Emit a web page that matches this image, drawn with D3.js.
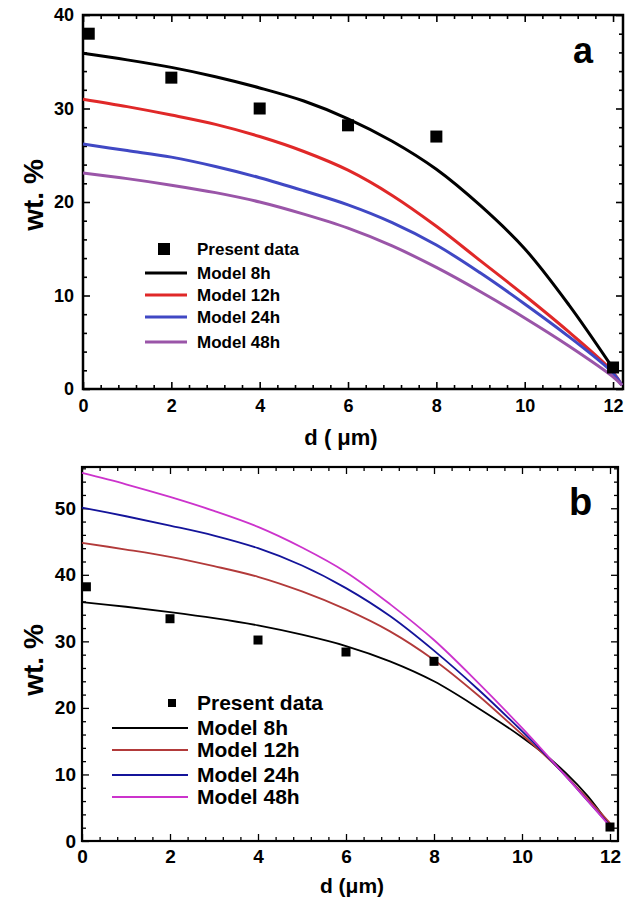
<!DOCTYPE html>
<html><head><meta charset="utf-8">
<script src="https://cdn.jsdelivr.net/npm/d3@7"></script>
<style>body{margin:0;background:#fff}svg{display:block}</style>
</head><body>
<svg id="c" width="635" height="903"></svg>
<script>
// ---------- DATA ----------
const seriesNames = ["Model 8h","Model 12h","Model 24h","Model 48h"];
// Panel a
const dataA_x = [0.13, 2, 4, 6, 8, 12];
const dataA_y = [38.0, 33.3, 30.0, 28.2, 27.0, 2.3];
const modelA_d = [0,1,2,3,4,5,6,7,8,9,10,11,12,12.2];
const modelA_8h  = [35.9,35.2,34.4,33.4,32.2,30.8,28.9,26.5,23.5,19.6,15.0,9.0,2.2];
const modelA_12h = [31.0,30.2,29.3,28.3,27.0,25.4,23.4,20.7,17.4,13.7,10.0,6.1,1.8,0.4];
const modelA_24h = [26.2,25.5,24.8,23.8,22.6,21.2,19.7,17.8,15.4,12.4,9.1,5.6,1.7,0.4];
const modelA_48h = [23.1,22.5,21.8,21.0,20.0,18.7,17.2,15.3,13.0,10.4,7.6,4.6,1.3,0.4];
// Panel b
const dataB_x = [0.1, 2, 4, 6, 8, 12];
const dataB_y = [38.2, 33.4, 30.2, 28.4, 27.0, 2.1];
const modelB_d = [0,1,2,3,4,5,6,7,8,9,10,10.5,11,11.5,12];
const modelB_8h  = [35.9,35.2,34.4,33.5,32.4,31.0,29.3,27.0,24.0,20.0,15.6,13.1,10.2,6.7,2.3];
const modelB_12h = [44.8,43.8,42.7,41.3,39.7,37.5,34.8,31.5,27.2,21.9,16.0,13.0,9.8,6.3,2.7];
const modelB_24h = [50.1,48.8,47.4,45.9,44.0,41.4,38.0,33.8,28.6,22.8,16.5,13.2,9.7,6.0,2.3];
const modelB_48h = [55.3,53.6,51.7,49.6,47.2,44.1,40.4,35.6,30.2,23.8,17.0,13.4,9.7,6.0,2.2];
const xTicks = [0,2,4,6,8,10,12];
const yTicksA = [0,10,20,30,40];
const yTicksB = [0,10,20,30,40,50];

// ---------- DRAW ----------
const svg = d3.select("#c");

function panel(o){
  const g = svg.append("g");
  const x = d3.scaleLinear().domain(o.xDomain).range([o.left,o.right]);
  const y = d3.scaleLinear().domain(o.yDomain).range([o.bottom,o.top]);
  const xMinor = d3.range(0, o.xDomain[1]+1e-9, 0.4).filter(v=>!xTicks.some(t=>Math.abs(t-v)<1e-6));
  const yMinor = d3.range(0, o.yDomain[1]+1e-9, 2).filter(v=>v%10!==0);
  const fontTick = `font-family:${o.tickFamily};font-weight:bold;font-size:${o.tickSize}px;fill:#000`;
  const styleAxis = sel => { sel.select(".domain").remove(); sel.selectAll("line").attr("stroke","#000").attr("stroke-width",o.frameW>2.3?1.6:1.3); };
  // bottom
  g.append("g").attr("transform",`translate(0,${o.bottom})`)
    .call(d3.axisBottom(x).tickValues(xTicks).tickSize(-7).tickPadding(o.xPad).tickFormat(d3.format("d")))
    .call(styleAxis).selectAll("text").attr("style",fontTick);
  g.append("g").attr("transform",`translate(0,${o.bottom})`)
    .call(d3.axisBottom(x).tickValues(xMinor).tickSize(-4).tickFormat(""))
    .call(styleAxis);
  // top
  g.append("g").attr("transform",`translate(0,${o.top})`)
    .call(d3.axisTop(x).tickValues(xTicks).tickSize(-7).tickFormat("")).call(styleAxis);
  g.append("g").attr("transform",`translate(0,${o.top})`)
    .call(d3.axisTop(x).tickValues(xMinor).tickSize(-4).tickFormat("")).call(styleAxis);
  // left
  g.append("g").attr("transform",`translate(${o.left},0)`)
    .call(d3.axisLeft(y).tickValues(o.yTicks).tickSize(-7).tickPadding(o.yPad).tickFormat(d3.format("d")))
    .call(styleAxis).selectAll("text").attr("style",fontTick);
  g.append("g").attr("transform",`translate(${o.left},0)`)
    .call(d3.axisLeft(y).tickValues(yMinor).tickSize(-4).tickFormat("")).call(styleAxis);
  // right
  g.append("g").attr("transform",`translate(${o.right},0)`)
    .call(d3.axisRight(y).tickValues(o.yTicks).tickSize(-7).tickFormat("")).call(styleAxis);
  g.append("g").attr("transform",`translate(${o.right},0)`)
    .call(d3.axisRight(y).tickValues(yMinor).tickSize(-4).tickFormat("")).call(styleAxis);
  // frame
  g.append("rect").attr("x",o.left).attr("y",o.top).attr("width",o.right-o.left).attr("height",o.bottom-o.top)
    .attr("fill","none").attr("stroke","#000").attr("stroke-width",o.frameW);

  // model lines
  const line = d3.line().x(d=>x(d[0])).y(d=>y(d[1])).curve(d3.curveCatmullRom.alpha(0.5));
  o.models.forEach((m,i)=>{
    const pts = m.map((v,j)=>[o.modelD[j],v]);
    g.append("path").attr("d",line(pts)).attr("fill","none")
      .attr("stroke",o.colors[i]).attr("stroke-width",o.lineW).attr("stroke-linejoin","round");
  });
  // data squares
  g.selectAll(null).data(o.dataX.map((v,i)=>[v,o.dataY[i]])).enter().append("rect")
    .attr("x",d=>x(d[0])-o.sq/2).attr("y",d=>y(d[1])-o.sq/2)
    .attr("width",o.sq).attr("height",o.sq).attr("fill","#000");

  // panel letter
  g.append("text").attr("x",o.letterX).attr("y",o.letterY).text(o.letter)
    .attr("style",`font-family:Liberation Sans,Arial,sans-serif;font-weight:bold;font-size:${o.letterSize}px`);
  // axis titles
  g.append("text").attr("transform",`translate(${o.yTitleX},${o.yTitleY}) rotate(-90)`)
    .attr("text-anchor","middle").text("wt. %")
    .attr("style",`font-family:Liberation Sans,Arial,sans-serif;font-weight:bold;font-size:${o.titleSize}px`);
  g.append("text").attr("x",o.xTitleX).attr("y",o.xTitleY).attr("text-anchor","middle").text(o.xTitle)
    .attr("style",`font-family:Liberation Sans,Arial,sans-serif;font-weight:bold;font-size:${o.xTitleSize}px`);

  // legend
  const lf = `font-family:Liberation Sans,Arial,sans-serif;font-weight:bold;font-size:${o.legSize}px`;
  g.append("rect").attr("x",o.legMarkX-o.legSq/2).attr("y",o.legMarkY-o.legSq/2)
    .attr("width",o.legSq).attr("height",o.legSq).attr("fill","#000");
  g.append("text").attr("x",o.legTextX).attr("y",o.legMarkY+o.legBase).text("Present data").attr("style",lf);
  seriesNames.forEach((s,i)=>{
    const ly = o.legLineY[i];
    g.append("line").attr("x1",o.legLineX[0]).attr("x2",o.legLineX[1]).attr("y1",ly).attr("y2",ly)
      .attr("stroke",o.colors[i]).attr("stroke-width",o.legLineW);
    g.append("text").attr("x",o.legTextX).attr("y",ly+o.legBase).text(s).attr("style",lf);
  });
}

panel({
  left:83,right:623,top:15,bottom:389,
  xDomain:[0,(623-83)/44.17], yDomain:[0,40], yTicks:yTicksA,
  tickFamily:"'Liberation Sans Narrow','Liberation Sans',Arial,sans-serif", tickSize:18, xPad:10, yPad:9,
  frameW:2.5, lineW:3,
  colors:["#000000","#e02828","#4048c4","#9a55a8"],
  models:[modelA_8h,modelA_12h,modelA_24h,modelA_48h], modelD:modelA_d,
  dataX:dataA_x, dataY:dataA_y, sq:12,
  letter:"a", letterX:573, letterY:63, letterSize:36,
  yTitleX:43, yTitleY:195, titleSize:28,
  xTitle:"d ( \u03bcm)", xTitleX:341, xTitleY:445, xTitleSize:22,
  legMarkX:164, legMarkY:249, legSq:12, legTextX:197, legBase:6, legSize:17,
  legLineY:[273,295,317,342], legLineX:[145,187], legLineW:3
});

panel({
  left:82,right:618,top:467,bottom:841,
  xDomain:[0,(618-82)/44], yDomain:[0,56.2], yTicks:yTicksB,
  tickFamily:"'Liberation Sans',Arial,sans-serif", tickSize:19, xPad:9, yPad:6,
  frameW:2.2, lineW:1.8,
  colors:["#000000","#b23a3a","#14149a","#cc33cc"],
  models:[modelB_8h,modelB_12h,modelB_24h,modelB_48h], modelD:modelB_d,
  dataX:dataB_x, dataY:dataB_y, sq:9,
  letter:"b", letterX:569, letterY:515, letterSize:38,
  yTitleX:43, yTitleY:660, titleSize:28,
  xTitle:"d (\u03bcm)", xTitleX:352, xTitleY:893, xTitleSize:21,
  legMarkX:172, legMarkY:703, legSq:8, legTextX:197, legBase:7, legSize:21,
  legLineY:[728,750,775,797], legLineX:[112,188], legLineW:2
});
</script>
</body></html>
